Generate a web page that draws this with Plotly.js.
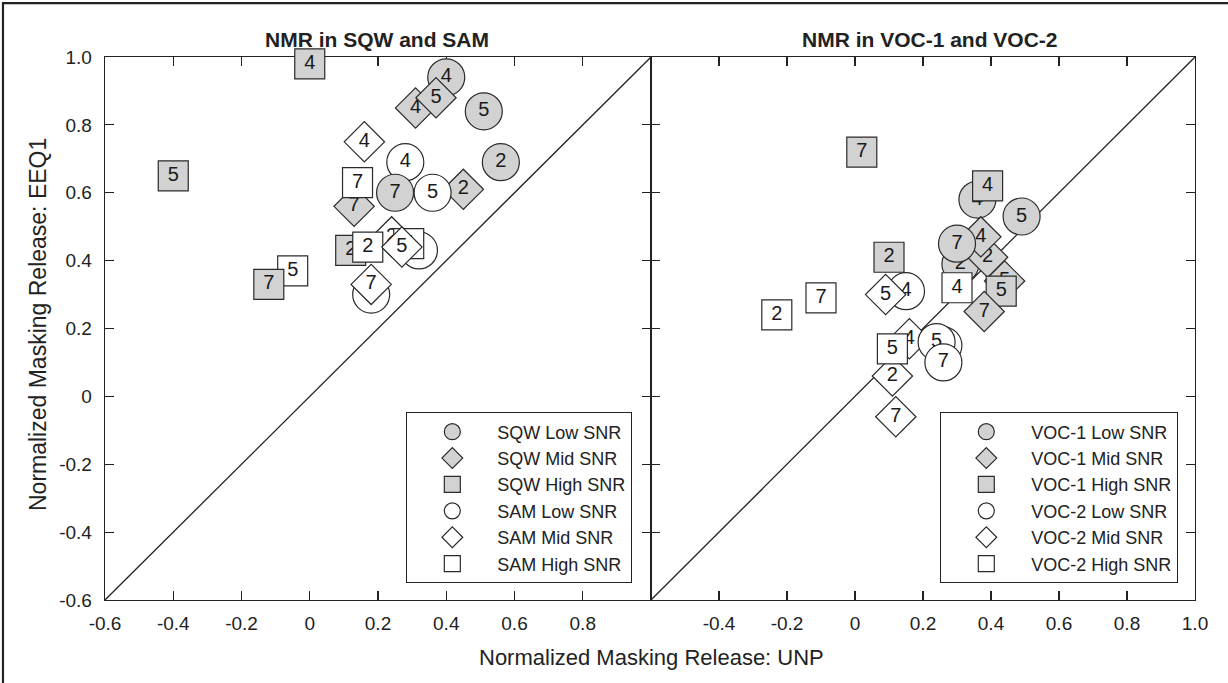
<!DOCTYPE html>
<html>
<head>
<meta charset="utf-8">
<script src="https://cdn.plot.ly/plotly-3.0.1.min.js"></script>
<style>html,body{margin:0;padding:0;background:#fff;}#chart{width:1228px;height:683px;}</style>
</head>
<body>
<div id="chart"></div>
<script>
// ---------- data (values ordered by channel label) ----------
const channels = ['2', '4', '5', '7'];

// Left panel: SQW and SAM
const sqwLowX  = [0.56, 0.40, 0.51, 0.25];
const sqwLowY  = [0.69, 0.94, 0.84, 0.60];
const sqwMidX  = [0.45, 0.31, 0.37, 0.13];
const sqwMidY  = [0.61, 0.85, 0.88, 0.56];
const sqwHighX = [0.12, 0.00, -0.40, -0.12];
const sqwHighY = [0.43, 0.98, 0.65, 0.33];
const samLowX  = [0.32, 0.28, 0.36, 0.18];
const samLowY  = [0.43, 0.69, 0.60, 0.30];
const samMidX  = [0.24, 0.16, 0.27, 0.18];
const samMidY  = [0.47, 0.75, 0.44, 0.33];
const samHighX = [0.17, 0.29, -0.05, 0.14];
const samHighY = [0.44, 0.45, 0.37, 0.63];

// Right panel: VOC-1 and VOC-2
const voc1LowX  = [0.31, 0.36, 0.49, 0.30];
const voc1LowY  = [0.39, 0.58, 0.53, 0.45];
const voc1MidX  = [0.39, 0.37, 0.44, 0.38];
const voc1MidY  = [0.41, 0.47, 0.34, 0.25];
const voc1HighX = [0.10, 0.39, 0.43, 0.02];
const voc1HighY = [0.41, 0.62, 0.31, 0.72];
const voc2LowX  = [0.26, 0.15, 0.24, 0.26];
const voc2LowY  = [0.15, 0.31, 0.16, 0.10];
const voc2MidX  = [0.11, 0.16, 0.09, 0.12];
const voc2MidY  = [0.06, 0.17, 0.30, -0.06];
const voc2HighX = [-0.23, 0.30, 0.11, -0.10];
const voc2HighY = [0.24, 0.32, 0.14, 0.29];

const leftNames  = ['SQW Low SNR', 'SQW Mid SNR', 'SQW High SNR', 'SAM Low SNR', 'SAM Mid SNR', 'SAM High SNR'];
const rightNames = ['VOC-1 Low SNR', 'VOC-1 Mid SNR', 'VOC-1 High SNR', 'VOC-2 Low SNR', 'VOC-2 Mid SNR', 'VOC-2 High SNR'];

const axisRange = [-0.6, 1.0];
const unityLine = [-0.6, 1.0];
const leftXTickVals  = [-0.6, -0.4, -0.2, 0, 0.2, 0.4, 0.6, 0.8];
const leftXTickText  = ['-0.6', '-0.4', '-0.2', '0', '0.2', '0.4', '0.6', '0.8'];
const rightXTickVals = [-0.4, -0.2, 0, 0.2, 0.4, 0.6, 0.8, 1.0];
const rightXTickText = ['-0.4', '-0.2', '0', '0.2', '0.4', '0.6', '0.8', '1.0'];
const yTickVals = [-0.6, -0.4, -0.2, 0, 0.2, 0.4, 0.6, 0.8, 1.0];
const yTickText = ['-0.6', '-0.4', '-0.2', '0', '0.2', '0.4', '0.6', '0.8', '1.0'];

const panelTitles = ['NMR in SQW and SAM', 'NMR in VOC-1 and VOC-2'];
const xTitle = 'Normalized Masking Release: UNP';
const yTitle = 'Normalized Masking Release: EEQ1';

// ---------- styles ----------
const FONT = 'Liberation Sans, Arial, Helvetica, sans-serif';
const GRAY = '#d2d2d2';
const EDGE = '#2a2a2a';
const seriesStyle = [
  {symbol: 'circle', size: 37, fill: GRAY},
  {symbol: 'diamond', size: 31, fill: GRAY},
  {symbol: 'square', size: 30, fill: GRAY},
  {symbol: 'circle', size: 37, fill: '#ffffff'},
  {symbol: 'diamond', size: 31, fill: '#ffffff'},
  {symbol: 'square', size: 30, fill: '#ffffff'}
];

const leftSeries  = [[sqwLowX, sqwLowY], [sqwMidX, sqwMidY], [sqwHighX, sqwHighY], [samLowX, samLowY], [samMidX, samMidY], [samHighX, samHighY]];
const rightSeries = [[voc1LowX, voc1LowY], [voc1MidX, voc1MidY], [voc1HighX, voc1HighY], [voc2LowX, voc2LowY], [voc2MidX, voc2MidY], [voc2HighX, voc2HighY]];

const traces = [];
function addPanel(series, names, xa, ya, legendId) {
  // legend entries
  names.forEach((nm, s) => {
    const st = seriesStyle[s];
    traces.push({
      type: 'scatter', mode: 'markers', x: [null], y: [null], xaxis: xa, yaxis: ya,
      name: nm, legend: legendId, showlegend: true, hoverinfo: 'skip',
      marker: {symbol: st.symbol, size: st.size, color: st.fill, line: {color: EDGE, width: 1.2}}
    });
  });
  // data points, drawn channel by channel
  channels.forEach((ch, c) => {
    series.forEach((xy, s) => {
      const st = seriesStyle[s];
      traces.push({
        type: 'scatter', mode: 'markers+text', x: [xy[0][c]], y: [xy[1][c]], xaxis: xa, yaxis: ya,
        text: [ch], textposition: 'middle center', cliponaxis: false,
        textfont: {family: FONT, size: 20, color: '#1a1a1a'},
        name: names[s], showlegend: false,
        marker: {symbol: st.symbol, size: st.size, color: st.fill, line: {color: EDGE, width: 1.2}}
      });
    });
  });
}
addPanel(leftSeries, leftNames, 'x', 'y', 'legend');
addPanel(rightSeries, rightNames, 'x2', 'y2', 'legend2');

const split = 546 / 1090;
function xAxis(domain, anchor, vals, txt) {
  return {
    domain: domain, anchor: anchor, range: axisRange, tickvals: vals, ticktext: txt,
    ticks: 'inside', ticklen: 9, tickwidth: 1.2, tickcolor: '#222',
    showline: true, linecolor: '#222', linewidth: 1.3, mirror: 'ticks',
    showgrid: false, zeroline: false, layer: 'below traces',
    tickfont: {family: FONT, size: 19, color: '#222'}, ticklabelstandoff: 6
  };
}
function yAxis(anchor, showLabels) {
  return {
    anchor: anchor, domain: [0, 1], range: axisRange, tickvals: yTickVals, ticktext: yTickText,
    showticklabels: showLabels,
    ticks: 'inside', ticklen: 9, tickwidth: 1.2, tickcolor: '#222',
    showline: true, linecolor: '#222', linewidth: 1.3, mirror: 'ticks',
    showgrid: false, zeroline: false, layer: 'below traces',
    tickfont: {family: FONT, size: 19, color: '#222'}, ticklabelstandoff: 8
  };
}

const legendStyle = {
  bgcolor: '#ffffff', bordercolor: '#222', borderwidth: 1.3,
  font: {family: FONT, size: 18, color: '#222'},
  itemwidth: 80, itemclick: false, itemdoubleclick: false,
  xref: 'paper', yref: 'paper', xanchor: 'right', yanchor: 'bottom', y: 0.031
};

const layout = {
  width: 1228, height: 683,
  margin: {l: 105, r: 33, t: 57, b: 83, pad: 0},
  paper_bgcolor: '#ffffff', plot_bgcolor: 'rgba(0,0,0,0)',
  font: {family: FONT, color: '#222'},
  showlegend: true,
  xaxis: xAxis([0, split], 'y', leftXTickVals, leftXTickText),
  yaxis: yAxis('x', true),
  xaxis2: xAxis([split, 1], 'y2', rightXTickVals, rightXTickText),
  yaxis2: yAxis('x2', false),
  legend: Object.assign({}, legendStyle, {x: 0.4835}),
  legend2: Object.assign({}, legendStyle, {x: 0.9844}),
  shapes: [
    {type: 'line', xref: 'x', yref: 'y', x0: unityLine[0], y0: unityLine[0], x1: unityLine[1], y1: unityLine[1], line: {color: '#222', width: 1.3}, layer: 'below'},
    {type: 'line', xref: 'x2', yref: 'y2', x0: unityLine[0], y0: unityLine[0], x1: unityLine[1], y1: unityLine[1], line: {color: '#222', width: 1.3}, layer: 'below'},
    {type: 'line', xref: 'paper', yref: 'paper', x0: -0.0945, y0: 1.0994, x1: 1.04, y1: 1.0994, line: {color: '#222', width: 2.2}},
    {type: 'line', xref: 'paper', yref: 'paper', x0: -0.0936, y0: 1.1, x1: -0.0936, y1: -0.16, line: {color: '#222', width: 2.2}}
  ],
  annotations: [
    {text: '<b>' + panelTitles[0] + '</b>', xref: 'paper', yref: 'paper', x: (377 - 105) / 1090, y: (600 - 40) / 543, xanchor: 'center', yanchor: 'middle', showarrow: false, font: {family: FONT, size: 21, color: '#222'}},
    {text: '<b>' + panelTitles[1] + '</b>', xref: 'paper', yref: 'paper', x: (930 - 105) / 1090, y: (600 - 40) / 543, xanchor: 'center', yanchor: 'middle', showarrow: false, font: {family: FONT, size: 21, color: '#222'}},
    {text: xTitle, xref: 'paper', yref: 'paper', x: split, y: (600 - 657) / 543, xanchor: 'center', yanchor: 'middle', showarrow: false, font: {family: FONT, size: 22, color: '#222'}},
    {text: yTitle, xref: 'paper', yref: 'paper', x: (38 - 105) / 1090, y: (600 - 325) / 543, xanchor: 'center', yanchor: 'middle', textangle: -90, showarrow: false, font: {family: FONT, size: 23, color: '#222'}}
  ]
};

Plotly.newPlot('chart', traces, layout, {displayModeBar: false, staticPlot: true});
</script>
</body>
</html>
